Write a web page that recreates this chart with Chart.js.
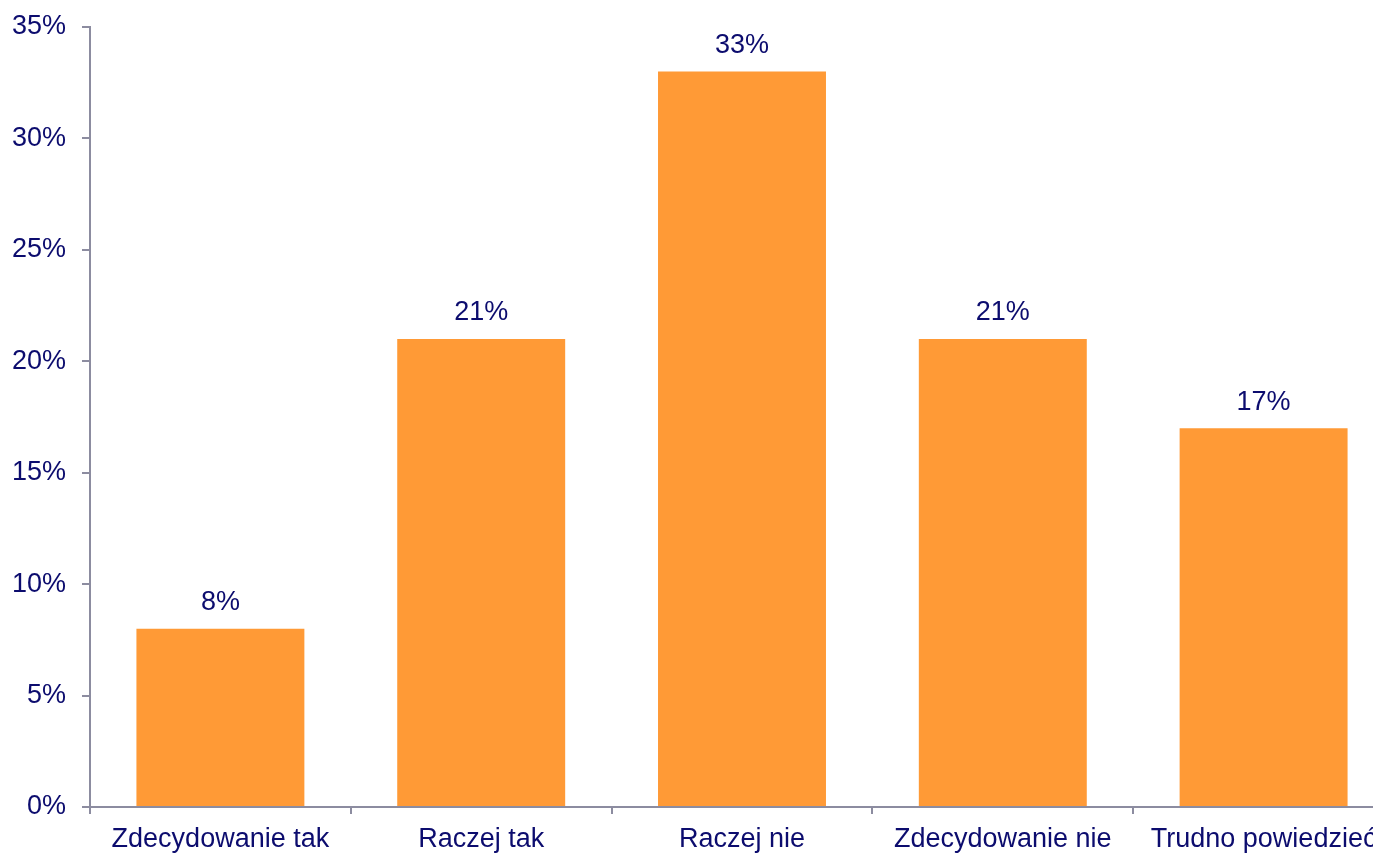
<!DOCTYPE html>
<html>
<head>
<meta charset="utf-8">
<script src="https://cdn.jsdelivr.net/npm/chart.js@4/dist/chart.umd.min.js"></script>
<style>
    html, body { margin: 0; padding: 0; background: #fff; overflow: hidden; }
    canvas { display: block; }
</style>
</head>
<body>
<canvas id="answersChart" width="1400" height="854"></canvas>
<script>
// Data
const categories = ['Zdecydowanie tak', 'Raczej tak', 'Raczej nie', 'Zdecydowanie nie', 'Trudno powiedzieć'];
const shares = [8, 21, 33, 21, 17];
const yTicks = [0, 5, 10, 15, 20, 25, 30, 35];

const textColor = '#0c0c6e';
const axisColor = '#8c8ca0';
const fontFamily = '"Liberation Sans", Arial, sans-serif';

// Draw the value labels above each bar
const valueLabels = {
    id: 'valueLabels',
    afterDatasetsDraw(chart) {
        const ctx = chart.ctx;
        const meta = chart.getDatasetMeta(0);
        ctx.save();
        ctx.font = '27px ' + fontFamily;
        ctx.fillStyle = textColor;
        ctx.textAlign = 'center';
        ctx.textBaseline = 'middle';
        meta.data.forEach(function(bar, i) {
            ctx.fillText(shares[i] + '%', bar.x, bar.y - 26);
        });
        ctx.restore();
    }
};

document.addEventListener('DOMContentLoaded', function() {
    const ctx = document.getElementById('answersChart').getContext('2d');
    new Chart(ctx, {
        type: 'bar',
        data: {
            labels: categories,
            datasets: [{
                data: shares,
                backgroundColor: '#ff9a36',
                borderWidth: 0,
                categoryPercentage: 1,
                barPercentage: 0.644
            }]
        },
        options: {
            responsive: false,
            animation: false,
            layout: { padding: { top: 27, right: 6, left: 0, bottom: 0 } },
            plugins: {
                legend: { display: false },
                tooltip: { enabled: false }
            },
            scales: {
                x: {
                    grid: {
                        offset: true,
                        drawOnChartArea: false,
                        color: axisColor,
                        tickLength: 7,
                        lineWidth: 2
                    },
                    border: { color: axisColor, width: 2 },
                    ticks: {
                        color: textColor,
                        font: { family: fontFamily, size: 27 },
                        padding: 9,
                        maxRotation: 0,
                        autoSkip: false
                    },
                    afterFit(scale) { scale.height = 47; }
                },
                y: {
                    min: 0,
                    max: 35,
                    afterBuildTicks(scale) {
                        scale.ticks = yTicks.map(function(v) { return { value: v }; });
                    },
                    grid: {
                        drawOnChartArea: false,
                        color: axisColor,
                        tickLength: 8,
                        lineWidth: 2
                    },
                    border: { color: axisColor, width: 2 },
                    ticks: {
                        color: textColor,
                        font: { family: fontFamily, size: 27 },
                        padding: 16,
                        callback: function(v) { return v + '%'; }
                    },
                    afterFit(scale) {
                        scale.width = 90;
                        scale.paddingTop = 0;
                        scale.paddingBottom = 0;
                    }
                }
            }
        },
        plugins: [valueLabels]
    });
});
</script>
</body>
</html>
